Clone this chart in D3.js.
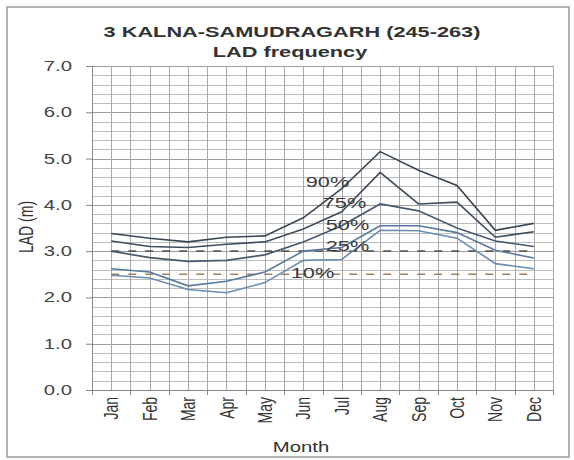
<!DOCTYPE html>
<html><head><meta charset="utf-8">
<script src="https://cdn.jsdelivr.net/npm/d3@7"></script>
<style>body{margin:0;background:#fff;} svg{display:block;font-family:"Liberation Sans",Arial,sans-serif;}</style>
</head><body>
<svg id="c" width="574" height="460"></svg>
<script>
const months = ["Jan","Feb","Mar","Apr","May","Jun","Jul","Aug","Sep","Oct","Nov","Dec"];
const p90 = [3.38,3.28,3.20,3.30,3.33,3.72,4.35,5.15,4.75,4.42,3.45,3.60];
const p75 = [3.22,3.10,3.08,3.15,3.20,3.48,3.85,4.70,4.02,4.06,3.30,3.42];
const p50 = [3.00,2.86,2.78,2.80,2.92,3.20,3.55,4.02,3.87,3.50,3.22,3.10];
const p25 = [2.62,2.55,2.25,2.35,2.55,3.00,3.08,3.55,3.55,3.40,3.02,2.85];
const p10 = [2.48,2.42,2.17,2.10,2.32,2.80,2.82,3.45,3.44,3.28,2.73,2.62];
const ref30 = [3.0,3.0,3.0,3.0,3.0,3.0,3.0,3.0,3.0,3.0,3.0,3.0];
const ref25 = [2.5,2.5,2.5,2.5,2.5,2.5,2.5,2.5,2.5,2.5,2.5,2.5];
const yTicks = [0,1,2,3,4,5,6,7];
const seriesNames = ["90%","75%","50%","25%","10%"];
const titleLines = ["3 KALNA-SAMUDRAGARH (245-263)","LAD frequency"];

const SX = 1.45; // horizontal stretch of the reference's text
const svg = d3.select("#c");
const L=92, R=553, T=66, B=390;
const x = d3.scaleBand().domain(months).range([L,R]).padding(0);
const y = d3.scaleLinear().domain([0,7]).range([B,T]);
const cx = m => x(m)+x.bandwidth()/2;

function txt(parent, px, py, s, o={}){
  const t = parent.append("text").attr("x",0).attr("y",0)
    .attr("transform",`translate(${px},${py}) scale(${SX},1)` + (o.rot?` rotate(${o.rot})`:""))
    .attr("text-anchor",o.anchor||"start").attr("font-size",o.size||14)
    .attr("fill",o.fill||"#333").text(s);
  if(o.bold) t.attr("font-weight","bold");
  if(o.dy) t.attr("dy",o.dy);
  return t;
}

// outer frame
svg.append("rect").attr("x",7).attr("y",7).attr("width",562).attr("height",450)
  .attr("fill","#fff").attr("stroke","#9a9a9a").attr("stroke-width",1.5);

// grid
const g = svg.append("g");
const hvals = d3.range(0,7.0001,0.2);
g.selectAll("line.h").data(hvals).join("line")
  .attr("x1",L).attr("x2",R).attr("y1",d=>Math.round(y(d))+0.5).attr("y2",d=>Math.round(y(d))+0.5)
  .attr("stroke",d=>Math.abs(d-Math.round(d))<1e-6?"#9a9a9a":"#bdbdbd").attr("stroke-width",1);
const vpos = [];
months.forEach(m=>{vpos.push(x(m)); vpos.push(cx(m));});
vpos.push(R);
g.selectAll("line.v").data(vpos).join("line")
  .attr("y1",T).attr("y2",B).attr("x1",d=>Math.round(d)+0.5).attr("x2",d=>Math.round(d)+0.5)
  .attr("stroke","#a8a8a8").attr("stroke-width",1);

// axes
const ya = svg.append("g").attr("transform",`translate(${L},0)`)
  .call(d3.axisLeft(y).tickValues(yTicks).tickFormat(d3.format(".1f")).tickSize(6));
ya.select(".domain").attr("stroke","#888");
ya.selectAll(".tick line").attr("stroke","#888");
ya.selectAll(".tick text").attr("font-size",14).attr("fill","#444").attr("x",0)
  .attr("transform",`translate(-20,0) scale(${SX},1)`);

const xa = svg.append("g").attr("transform",`translate(0,${B})`)
  .call(d3.axisBottom(x).tickSize(0));
xa.select(".domain").attr("stroke","#888");
xa.selectAll(".tick text").attr("font-size",14).attr("fill","#333").attr("y",0).attr("x",0)
  .attr("dy","0.35em").attr("text-anchor","end")
  .attr("transform",`translate(0,7) scale(${SX},1) rotate(-90)`);
svg.append("g").selectAll("line").data(vpos.filter((d,i)=>i%2===0||d===R)).join("line")
  .attr("x1",d=>Math.round(d)+0.5).attr("x2",d=>Math.round(d)+0.5).attr("y1",B).attr("y2",B+5).attr("stroke","#888");

// reference dashed lines
const line = d3.line().x((d,i)=>cx(months[i])).y(d=>y(d));
svg.append("path").datum(ref30).attr("d",line).attr("fill","none")
  .attr("stroke","#5a5a5a").attr("stroke-width",1.6).attr("stroke-dasharray","8,9");
svg.append("path").datum(ref25).attr("d",line).attr("fill","none")
  .attr("stroke","#a08060").attr("stroke-width",1.6).attr("stroke-dasharray","8,9");

// series
const series = [p90,p75,p50,p25,p10];
const colors = ["#3b4655","#3f4c5e","#465a72","#58789e","#6a8bb2"];
series.forEach((s,i)=>{
  svg.append("path").datum(s).attr("d",line).attr("fill","none")
    .attr("stroke",colors[i]).attr("stroke-width",1.6);
});

// series labels (placed near the July point of each series)
const lab = svg.append("g");
const labDx = [-36,-19,-16,-16,-51];
const labDv = [0.15,0.20,0.02,0.03,-0.29];
seriesNames.forEach((n,i)=>{
  txt(lab, cx("Jul")+labDx[i], y(series[i][6]+labDv[i]), n, {size:15, fill:"#3a3a3a", dy:"0.35em"});
});

// titles
txt(svg, 292, 37, titleLines[0], {anchor:"middle", size:15, bold:true});
txt(svg, 290, 57, titleLines[1], {anchor:"middle", size:15, bold:true});
// axis titles
svg.append("text").attr("transform",`translate(26,227) rotate(-90) scale(1,${SX})`).attr("text-anchor","middle")
  .attr("dy","0.35em").attr("font-size",14).attr("fill","#333").text("LAD (m)");
txt(svg, 301, 452, "Month", {anchor:"middle", size:14});
</script>
</body></html>
